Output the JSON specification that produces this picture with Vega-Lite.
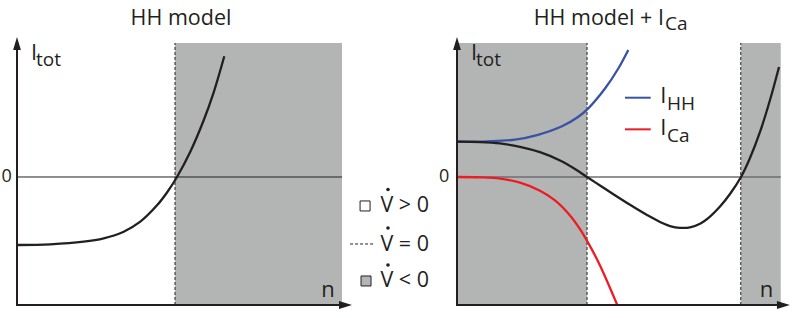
{
  "$schema": "https://vega.github.io/schema/vega-lite/v6.json",
  "padding": 0,
  "spacing": 0,
  "bounds": "flush",
  "background": "white",
  "config": {"view": {"stroke": null}, "text": {"font": "Open Sans", "color": "#231f20"}},
  "datasets": {
    "p1_region": [{"n": 1.0, "n2": 2.057, "I": -1.882, "I2": 1.971}],
    "p1_null": [{"n": 1.0, "I": -1.882, "I2": 1.971}],
    "p1_zero": [{"n": 0, "n2": 2.057, "I": 0}],
    "p1_axes": [{"n": 0, "I": -1.882, "n2": 0, "I2": 1.956}, {"n": 0, "I": -1.882, "n2": 2.079, "I2": -1.882}],
    "p1_arrow_up": [{"n": 0, "I": 1.963}],
    "p1_arrow_right": [{"n": 2.079, "I": -1.882}],
    "p1_curve": [
      {"n": 0, "I": -1.0}, {"n": 0.2108, "I": -0.99}, {"n": 0.4222, "I": -0.951}, {"n": 0.5487, "I": -0.901},
      {"n": 0.6753, "I": -0.804}, {"n": 0.7804, "I": -0.657}, {"n": 0.8861, "I": -0.417}, {"n": 0.9494, "I": -0.228},
      {"n": 1.0127, "I": 0}, {"n": 1.0968, "I": 0.371}, {"n": 1.1816, "I": 0.834}, {"n": 1.2449, "I": 1.245}, {"n": 1.312, "I": 1.775}
    ],
    "p1_key_open": [{"n": 2.203, "I": -0.426}],
    "p1_key_gray": [{"n": 2.209, "I": -1.529}],
    "p1_key_dash": [{"n": 2.108, "n2": 2.259, "I": -0.985}],
    "p1_key_dots": [{"n": 2.348, "I": -0.184}, {"n": 2.348, "I": -0.75}, {"n": 2.348, "I": -1.294}],
    "p1_key_text": [
      {"n": 2.3, "I": -0.515, "label": "V > 0"},
      {"n": 2.3, "I": -1.088, "label": "V = 0"},
      {"n": 2.3, "I": -1.618, "label": "V < 0"}
    ],
    "p1_title_text": [{"n": 1.038, "I": 2.235, "label": "HH model"}],
    "p1_center_text": [{"n": 1.968, "I": -1.765, "label": "n"}],
    "p1_right_text": [{"n": 0.127, "I": 1.721, "label": "I"}],
    "p1_sub_text": [{"n": 0.12, "I": 1.632, "label": "tot"}],
    "p1_zero_text": [{"n": -0.066, "I": 0, "label": "0"}],

    "p2_region": [{"n": 0, "n2": 0.823, "I": -1.882, "I2": 1.971}, {"n": 1.796, "n2": 2.049, "I": -1.882, "I2": 1.971}],
    "p2_null": [{"n": 0.823, "I": -1.882, "I2": 1.971}, {"n": 1.796, "I": -1.882, "I2": 1.971}],
    "p2_zero": [{"n": 0, "n2": 2.049, "I": 0}],
    "p2_axes": [{"n": 0, "I": -1.882, "n2": 0, "I2": 1.956}, {"n": 0, "I": -1.882, "n2": 2.066, "I2": -1.882}],
    "p2_arrow_up": [{"n": 0, "I": 1.963}],
    "p2_arrow_right": [{"n": 2.066, "I": -1.882}],
    "p2_hh": [
      {"n": 0, "I": 0.519}, {"n": 0.1962, "I": 0.525}, {"n": 0.3671, "I": 0.55}, {"n": 0.5127, "I": 0.621},
      {"n": 0.6646, "I": 0.746}, {"n": 0.7658, "I": 0.882}, {"n": 0.831, "I": 1.01}, {"n": 0.9367, "I": 1.301},
      {"n": 1.0209, "I": 1.596}, {"n": 1.0842, "I": 1.868}
    ],
    "p2_tot": [
      {"n": 0, "I": 0.519}, {"n": 0.1456, "I": 0.513}, {"n": 0.2722, "I": 0.493}, {"n": 0.3987, "I": 0.444},
      {"n": 0.5253, "I": 0.365}, {"n": 0.6519, "I": 0.243}, {"n": 0.7468, "I": 0.118}, {"n": 0.8228, "I": 0},
      {"n": 0.9051, "I": -0.125}, {"n": 0.9873, "I": -0.25}, {"n": 1.0949, "I": -0.409}, {"n": 1.2025, "I": -0.559},
      {"n": 1.2848, "I": -0.662}, {"n": 1.3481, "I": -0.721}, {"n": 1.4114, "I": -0.747}, {"n": 1.4747, "I": -0.74},
      {"n": 1.538, "I": -0.687}, {"n": 1.6013, "I": -0.581}, {"n": 1.6646, "I": -0.434}, {"n": 1.7278, "I": -0.25},
      {"n": 1.7975, "I": 0}, {"n": 1.8544, "I": 0.279}, {"n": 1.9177, "I": 0.662}, {"n": 1.981, "I": 1.132}, {"n": 2.038, "I": 1.618}
    ],
    "p2_ca": [
      {"n": 0, "I": 0}, {"n": 0.1456, "I": -0.005}, {"n": 0.2722, "I": -0.024}, {"n": 0.3987, "I": -0.083},
      {"n": 0.5253, "I": -0.201}, {"n": 0.6203, "I": -0.344}, {"n": 0.7152, "I": -0.565}, {"n": 0.7785, "I": -0.767},
      {"n": 0.8418, "I": -1.017}, {"n": 0.9051, "I": -1.3}, {"n": 1.0146, "I": -1.882}
    ],
    "p2_key_hh": [{"n": 1.063, "n2": 1.226, "I": 1.166}],
    "p2_key_ca": [{"n": 1.063, "n2": 1.226, "I": 0.701}],
    "p2_title_text": [{"n": 1.31, "I": 2.235, "label": "HH model + I"}],
    "p2_right_text": [
      {"n": 0.127, "I": 1.721, "label": "I"},
      {"n": 1.326, "I": 1.084, "label": "I"},
      {"n": 1.326, "I": 0.618, "label": "I"}
    ],
    "p2_sub_text": [
      {"n": 1.316, "I": 2.162, "label": "Ca"},
      {"n": 0.12, "I": 1.632, "label": "tot"},
      {"n": 1.329, "I": 0.985, "label": "HH"},
      {"n": 1.329, "I": 0.515, "label": "Ca"}
    ],
    "p2_center_text": [{"n": 1.959, "I": -1.765, "label": "n"}],
    "p2_zero_text": [{"n": -0.082, "I": 0, "label": "0"}]
  },
  "hconcat": [
    {
      "width": 440,
      "height": 318,
      "encoding": {
        "x": {"field": "n", "type": "quantitative", "scale": {"domain": [-0.1076, 2.6772], "nice": false, "zero": false}, "axis": null},
        "y": {"field": "I", "type": "quantitative", "scale": {"domain": [-2.0735, 2.6029], "nice": false, "zero": false}, "axis": null}
      },
      "layer": [
        {"data": {"name": "p1_region"}, "mark": {"type": "rect", "color": "#b3b5b4"}, "encoding": {"x2": {"field": "n2"}, "y2": {"field": "I2"}}},
        {"data": {"name": "p1_null"}, "mark": {"type": "rule", "color": "#231f20", "strokeWidth": 1, "strokeDash": [3, 2]}, "encoding": {"y2": {"field": "I2"}}},
        {"data": {"name": "p1_zero"}, "mark": {"type": "rule", "color": "#231f20", "strokeWidth": 1}, "encoding": {"x2": {"field": "n2"}}},
        {"data": {"name": "p1_curve"}, "mark": {"type": "line", "interpolate": "catmull-rom", "color": "#231f20", "strokeWidth": 2.3}, "encoding": {}},
        {"data": {"name": "p1_axes"}, "mark": {"type": "rule", "color": "#231f20", "strokeWidth": 2, "strokeCap": "square"}, "encoding": {"x2": {"field": "n2"}, "y2": {"field": "I2"}}},
        {"data": {"name": "p1_arrow_up"}, "mark": {"type": "point", "shape": "M0,-1L0.6,1L-0.6,1Z", "size": 169, "filled": true, "color": "#231f20", "opacity": 1}},
        {"data": {"name": "p1_arrow_right"}, "mark": {"type": "point", "shape": "M1,0L-1,0.6L-1,-0.6Z", "size": 169, "filled": true, "color": "#231f20", "opacity": 1}},
        {"data": {"name": "p1_key_open"}, "mark": {"type": "point", "shape": "square", "size": 100, "filled": true, "fill": "#ffffff", "stroke": "#231f20", "strokeWidth": 1, "opacity": 1}},
        {"data": {"name": "p1_key_gray"}, "mark": {"type": "point", "shape": "square", "size": 100, "filled": true, "fill": "#b3b5b4", "stroke": "#231f20", "strokeWidth": 1, "opacity": 1}},
        {"data": {"name": "p1_key_dash"}, "mark": {"type": "rule", "color": "#231f20", "strokeWidth": 1, "strokeDash": [3, 2]}, "encoding": {"x2": {"field": "n2"}}},
        {"data": {"name": "p1_key_dots"}, "mark": {"type": "point", "shape": "circle", "size": 13, "filled": true, "color": "#231f20", "opacity": 1}},
        {"data": {"name": "p1_key_text"}, "mark": {"type": "text", "align": "left", "baseline": "alphabetic", "fontSize": 21.5}, "encoding": {"text": {"field": "label"}}},
        {"data": {"name": "p1_title_text"}, "mark": {"type": "text", "align": "center", "baseline": "alphabetic", "fontSize": 21.5}, "encoding": {"text": {"field": "label"}}},
        {"data": {"name": "p1_center_text"}, "mark": {"type": "text", "align": "center", "baseline": "alphabetic", "fontSize": 22}, "encoding": {"text": {"field": "label"}}},
        {"data": {"name": "p1_right_text"}, "mark": {"type": "text", "align": "right", "baseline": "alphabetic", "fontSize": 22}, "encoding": {"text": {"field": "label"}}},
        {"data": {"name": "p1_sub_text"}, "mark": {"type": "text", "align": "left", "baseline": "alphabetic", "fontSize": 19}, "encoding": {"text": {"field": "label"}}},
        {"data": {"name": "p1_zero_text"}, "mark": {"type": "text", "align": "center", "baseline": "middle", "fontSize": 18}, "encoding": {"text": {"field": "label"}}}
      ]
    },
    {
      "width": 355,
      "height": 318,
      "encoding": {
        "x": {"field": "n", "type": "quantitative", "scale": {"domain": [-0.1076, 2.1392], "nice": false, "zero": false}, "axis": null},
        "y": {"field": "I", "type": "quantitative", "scale": {"domain": [-2.0735, 2.6029], "nice": false, "zero": false}, "axis": null}
      },
      "layer": [
        {"data": {"name": "p2_region"}, "mark": {"type": "rect", "color": "#b3b5b4"}, "encoding": {"x2": {"field": "n2"}, "y2": {"field": "I2"}}},
        {"data": {"name": "p2_null"}, "mark": {"type": "rule", "color": "#231f20", "strokeWidth": 1, "strokeDash": [3, 2]}, "encoding": {"y2": {"field": "I2"}}},
        {"data": {"name": "p2_zero"}, "mark": {"type": "rule", "color": "#6d6e71", "strokeWidth": 1.5}, "encoding": {"x2": {"field": "n2"}}},
        {"data": {"name": "p2_hh"}, "mark": {"type": "line", "interpolate": "catmull-rom", "color": "#3753a5", "strokeWidth": 2.3}, "encoding": {}},
        {"data": {"name": "p2_ca"}, "mark": {"type": "line", "interpolate": "catmull-rom", "color": "#ed1c24", "strokeWidth": 2.3}, "encoding": {}},
        {"data": {"name": "p2_tot"}, "mark": {"type": "line", "interpolate": "catmull-rom", "color": "#231f20", "strokeWidth": 2.3}, "encoding": {}},
        {"data": {"name": "p2_axes"}, "mark": {"type": "rule", "color": "#231f20", "strokeWidth": 2, "strokeCap": "square"}, "encoding": {"x2": {"field": "n2"}, "y2": {"field": "I2"}}},
        {"data": {"name": "p2_arrow_up"}, "mark": {"type": "point", "shape": "M0,-1L0.6,1L-0.6,1Z", "size": 169, "filled": true, "color": "#231f20", "opacity": 1}},
        {"data": {"name": "p2_arrow_right"}, "mark": {"type": "point", "shape": "M1,0L-1,0.6L-1,-0.6Z", "size": 169, "filled": true, "color": "#231f20", "opacity": 1}},
        {"data": {"name": "p2_key_hh"}, "mark": {"type": "rule", "color": "#3753a5", "strokeWidth": 2}, "encoding": {"x2": {"field": "n2"}}},
        {"data": {"name": "p2_key_ca"}, "mark": {"type": "rule", "color": "#ed1c24", "strokeWidth": 2}, "encoding": {"x2": {"field": "n2"}}},
        {"data": {"name": "p2_title_text"}, "mark": {"type": "text", "align": "right", "baseline": "alphabetic", "fontSize": 21.5}, "encoding": {"text": {"field": "label"}}},
        {"data": {"name": "p2_right_text"}, "mark": {"type": "text", "align": "right", "baseline": "alphabetic", "fontSize": 22}, "encoding": {"text": {"field": "label"}}},
        {"data": {"name": "p2_sub_text"}, "mark": {"type": "text", "align": "left", "baseline": "alphabetic", "fontSize": 19}, "encoding": {"text": {"field": "label"}}},
        {"data": {"name": "p2_center_text"}, "mark": {"type": "text", "align": "center", "baseline": "alphabetic", "fontSize": 22}, "encoding": {"text": {"field": "label"}}},
        {"data": {"name": "p2_zero_text"}, "mark": {"type": "text", "align": "center", "baseline": "middle", "fontSize": 18}, "encoding": {"text": {"field": "label"}}}
      ]
    }
  ]
}
